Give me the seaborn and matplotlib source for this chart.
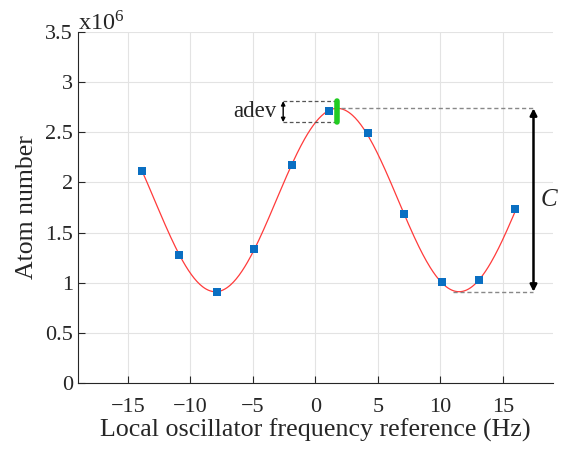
import numpy as np
import pandas as pd
import matplotlib
matplotlib.use("Agg")
import matplotlib.pyplot as plt
import seaborn as sns

# detuning of the local oscillator (Hz) and measured atom number (x1e6)
freq_hz = [-13.9, -10.9, -7.9, -4.9, -1.85, 1.1, 4.2, 7.1, 10.1, 13.1, 16.0]
atom_number = [2.11, 1.275, 0.905, 1.335, 2.17, 2.71, 2.49, 1.685, 1.005, 1.025, 1.735]

y_ticks = [0, 0.5, 1, 1.5, 2, 2.5, 3, 3.5]
y_tick_labels = ["0", "0.5", "1", "1.5", "2", "2.5", "3", "3.5"]
x_ticks = [-15, -10, -5, 0, 5, 10, 15]

# adev bar limits (x1e6)
adev_lo, adev_hi = 2.60, 2.81

df = pd.DataFrame({"freq": freq_hz, "atoms": atom_number})

# sinusoidal least-squares fit: scan period, linear fit in cos/sin
x = df["freq"].to_numpy()
y = df["atoms"].to_numpy()
best = None
for period in np.linspace(15, 25, 2001):
    w = 2 * np.pi / period
    A = np.column_stack([np.ones_like(x), np.cos(w * x), np.sin(w * x)])
    coef, *_ = np.linalg.lstsq(A, y, rcond=None)
    res = np.sum((A @ coef - y) ** 2)
    if best is None or res < best[0]:
        best = (res, period, coef)
_, period, coef = best
w = 2 * np.pi / period
xf = np.linspace(x.min(), x.max(), 400)
fit = pd.DataFrame({"freq": xf,
                    "atoms": coef[0] + coef[1] * np.cos(w * xf) + coef[2] * np.sin(w * xf)})
amp = np.hypot(coef[1], coef[2])
x_peak = np.arctan2(coef[2], coef[1]) / w
y_max = coef[0] + amp
y_min = coef[0] - amp
x_trough = x_peak + period / 2

sns.set_style("ticks")
plt.rcParams["font.family"] = ["Liberation Serif", "DejaVu Serif"]
plt.rcParams["mathtext.fontset"] = "stix"

fig = plt.figure(figsize=(5.63, 4.49), dpi=100)
ax = fig.add_axes([0.1385, 0.147, 0.8435, 0.782])

sns.lineplot(data=fit, x="freq", y="atoms", ax=ax, color="#ff3b3b", lw=0.9, zorder=2)
sns.scatterplot(data=df, x="freq", y="atoms", ax=ax, marker="s", s=40,
                color="#0a6fc2", edgecolor="#0a6fc2", linewidth=0, zorder=3)

# contrast C
x_arrow = 17.45
ax.plot([x_peak + 0.3, x_arrow], [y_max, y_max], ls=(0, (3, 2)), color="#888888", lw=1)
ax.plot([x_trough - 0.5, x_arrow], [y_min, y_min], ls=(0, (3, 2)), color="#888888", lw=1)
ax.annotate("", xy=(x_arrow, y_min), xytext=(x_arrow, y_max),
            arrowprops=dict(arrowstyle="<|-|>", color="black", lw=1.8,
                            mutation_scale=10, shrinkA=0, shrinkB=0))
ax.text(x_arrow + 0.55, (y_max + y_min) / 2, "C", fontsize=18, style="italic",
        ha="left", va="center")

# adev
x_adev = -2.58
ax.plot([x_adev, x_peak], [adev_hi, adev_hi], ls=(0, (3, 2)), color="#555555", lw=0.9)
ax.plot([x_adev, x_peak], [adev_lo, adev_lo], ls=(0, (3, 2)), color="#555555", lw=0.9)
ax.annotate("", xy=(x_adev, adev_lo), xytext=(x_adev, adev_hi),
            arrowprops=dict(arrowstyle="<|-|>", color="black", lw=1.0,
                            mutation_scale=6, shrinkA=0, shrinkB=0))
ax.plot([x_peak, x_peak], [adev_lo, adev_hi], color="#22cc22", lw=4,
        solid_capstyle="round", zorder=4)
ax.text(x_adev - 0.5, (adev_lo + adev_hi) / 2, "adev", fontsize=16.5,
        ha="right", va="center")

ax.set_xlim(-19, 19)
ax.set_ylim(0, 3.5)
ax.set_xticks(x_ticks)
ax.set_yticks(y_ticks)
ax.set_yticklabels(y_tick_labels)
ax.grid(True, color="#e3e3e3", lw=0.8)
ax.set_axisbelow(True)
ax.tick_params(direction="in", length=5, labelsize=16, width=0.8)
ax.tick_params(axis="x", pad=11)
for side in ["top", "right"]:
    ax.spines[side].set_visible(False)
ax.set_xlabel("Local oscillator frequency reference (Hz)", fontsize=18.7, labelpad=1)
ax.set_ylabel("Atom number", fontsize=18.5, labelpad=5)
ax.text(0.0, 0.99, r"x10$^{\mathregular{6}}$", transform=ax.transAxes, fontsize=17.5,
        ha="left", va="bottom")

fig.savefig("out.png", dpi=100)
